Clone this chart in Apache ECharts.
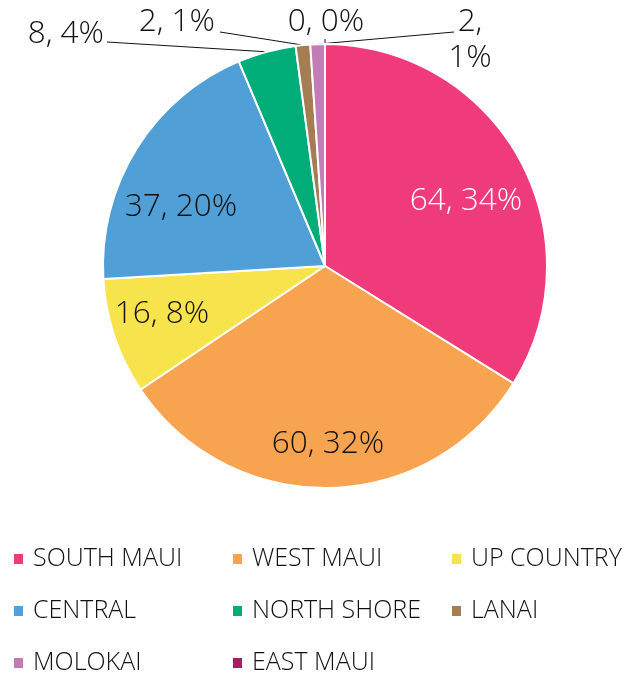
<!DOCTYPE html>
<html>
<head>
<meta charset="utf-8">
<script src="https://cdn.jsdelivr.net/npm/echarts@6/dist/echarts.min.js"></script>
<style>
html,body{margin:0;padding:0;background:#fff;}
#chart{width:641px;height:677px;}
</style>
</head>
<body>
<div id="chart"></div>
<script>
// ---- data ----
const categories = ['SOUTH MAUI', 'WEST MAUI', 'UP COUNTRY', 'CENTRAL', 'NORTH SHORE', 'LANAI', 'MOLOKAI', 'EAST MAUI'];
const values = [64, 60, 16, 37, 8, 2, 2, 0];

// ---- styles ----
const colors = ['#EF3B79', '#F8A34F', '#F7E34C', '#519FD7', '#00AC78', '#A67C52', '#C27CB8', '#A51E65'];
const FONT = '"Open Sans", "Noto Sans", sans-serif';
const WEIGHT = 300;
const insideSet = ['SOUTH MAUI', 'WEST MAUI', 'UP COUNTRY', 'CENTRAL'];
// label placement (text anchors) for each category
const labelPlacement = {
  'SOUTH MAUI':  {x: 466, y: 201, align: 'center', color: '#ffffff'},
  'WEST MAUI':   {x: 328, y: 444, align: 'center', color: '#111111'},
  'UP COUNTRY':  {x: 162, y: 314, align: 'center', color: '#111111'},
  'CENTRAL':     {x: 181, y: 207, align: 'center', color: '#111111'},
  'NORTH SHORE': {x: 104, y: 34, align: 'right', line: [107, 42]},
  'LANAI':       {x: 215, y: 22, align: 'right', line: [220, 32]},
  'EAST MAUI':   {x: 326, y: 22, align: 'center', line: [325, 39]},
  'MOLOKAI':     {x: 470, y: 40, align: 'center', line: [454, 32]}
};

const chart = echarts.init(document.getElementById('chart'), null, {renderer: 'canvas'});

const pieData = categories.map((name, i) => {
  const inside = insideSet.indexOf(name) >= 0;
  return {
    name: name,
    value: values[i],
    itemStyle: {color: colors[i]},
    label: {
      position: inside ? 'inside' : 'outside',
      color: labelPlacement[name].color || '#111111'
    },
    labelLine: {show: !inside}
  };
});

const option = {
  animation: false,
  textStyle: {fontFamily: FONT},
  legend: {
    data: categories,
    left: 12,
    top: 533,
    width: 660,
    padding: 0,
    itemGap: 0,
    itemWidth: 11,
    itemHeight: 12,
    icon: 'rect',
    selectedMode: false,
    textStyle: {
      fontFamily: FONT,
      fontWeight: WEIGHT,
      fontSize: 25,
      color: '#111111',
      width: 198,
      lineHeight: 52,
      padding: [0, 0, 0, 4]
    }
  },
  series: [{
    type: 'pie',
    center: [325, 266],
    radius: 222,
    startAngle: 90,
    clockwise: true,
    avoidLabelOverlap: false,
    stillShowZeroSum: true,
    itemStyle: {borderColor: '#ffffff', borderWidth: 2},
    label: {
      show: true,
      fontFamily: FONT,
      fontWeight: WEIGHT,
      fontSize: 31.5,
      lineHeight: 36,
      color: '#111111',
      formatter: function (p) {
        const sep = p.name === 'MOLOKAI' ? '\n' : ' ';
        return p.value + ',' + sep + Math.round(p.percent) + '%';
      }
    },
    labelLine: {
      show: true,
      length: 10,
      length2: 10,
      lineStyle: {color: '#111111', width: 1}
    },
    labelLayout: function (params) {
      const name = categories[params.dataIndex];
      const pl = labelPlacement[name];
      const out = {x: pl.x, y: pl.y, align: pl.align, verticalAlign: 'middle'};
      if (pl.line && params.labelLinePoints && params.labelLinePoints.length) {
        const a = params.labelLinePoints[0];
        out.labelLinePoints = [[a[0], a[1]], [pl.line[0], pl.line[1]], [pl.line[0], pl.line[1]]];
      }
      return out;
    },
    emphasis: {disabled: true},
    data: pieData
  }]
};

chart.setOption(option);
</script>
</body>
</html>
